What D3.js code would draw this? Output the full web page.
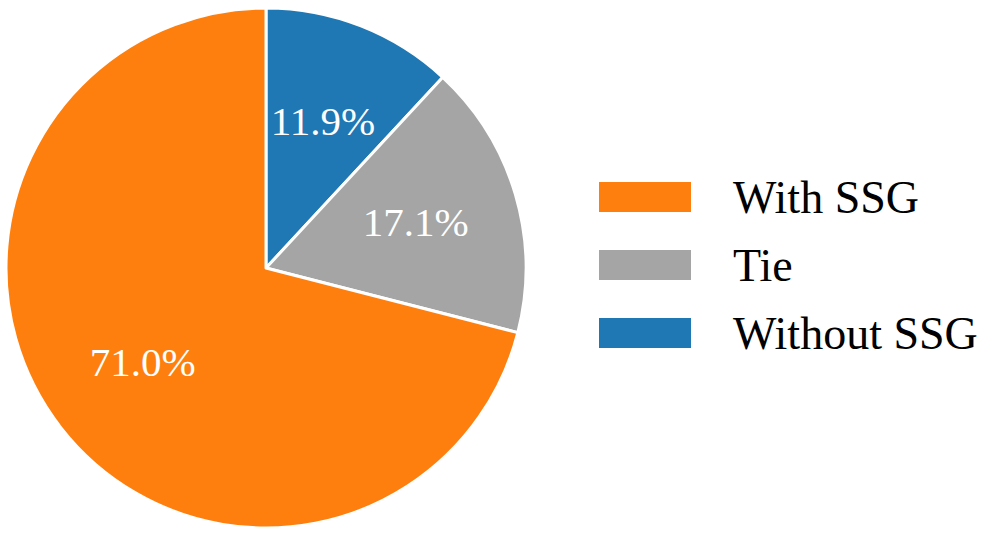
<!DOCTYPE html>
<html>
<head>
<meta charset="utf-8">
<script src="https://cdn.jsdelivr.net/npm/d3@7"></script>
<style>
  body { margin: 0; background: #fff; }
  text { font-family: "Liberation Serif", "Times New Roman", serif; }
</style>
</head>
<body>
<svg id="chart" width="996" height="539"></svg>
<script>
// slices, clockwise from 12 o'clock
var categories = ["Without SSG", "Tie", "With SSG"];
var values = [11.9, 17.1, 71.0];
var colors = ["#1f77b4", "#a5a5a5", "#ff7f0e"];
// legend order
var legendOrder = ["With SSG", "Tie", "Without SSG"];

var svg = d3.select("#chart");
var cx = 266, cy = 268, radius = 260;

var color = d3.scaleOrdinal().domain(categories).range(colors);

var pie = d3.pie().sort(null).value(function(d, i) { return values[i]; });
var arcs = pie(categories);

var arc = d3.arc().innerRadius(0).outerRadius(radius);
var labelArc = d3.arc().innerRadius(radius * 0.6).outerRadius(radius * 0.6);

var g = svg.append("g").attr("transform", "translate(" + cx + "," + cy + ")");

g.selectAll("path.slice")
  .data(arcs)
  .enter().append("path")
  .attr("class", "slice")
  .attr("d", arc)
  .attr("fill", function(d) { return color(d.data); })
  .attr("stroke", "#fff")
  .attr("stroke-width", 3)
  .attr("stroke-linejoin", "round");

g.selectAll("text.pct")
  .data(arcs)
  .enter().append("text")
  .attr("class", "pct")
  .attr("transform", function(d) { return "translate(" + labelArc.centroid(d) + ")"; })
  .attr("text-anchor", "middle")
  .attr("dy", "0.3em")
  .attr("fill", "#fff")
  .style("font-size", "41px")
  .text(function(d, i) { return values[i].toFixed(1) + "%"; });

// legend
var legend = svg.append("g").attr("transform", "translate(599,182)");
var row = legend.selectAll("g.row")
  .data(legendOrder)
  .enter().append("g")
  .attr("class", "row")
  .attr("transform", function(d, i) { return "translate(0," + (i * 68) + ")"; });

row.append("rect")
  .attr("width", 92)
  .attr("height", 30)
  .attr("fill", function(d) { return color(d); });

row.append("text")
  .attr("x", 134)
  .attr("y", 31)
  .attr("fill", "#000")
  .style("font-size", "46px")
  .text(function(d) { return d; });
</script>
</body>
</html>
